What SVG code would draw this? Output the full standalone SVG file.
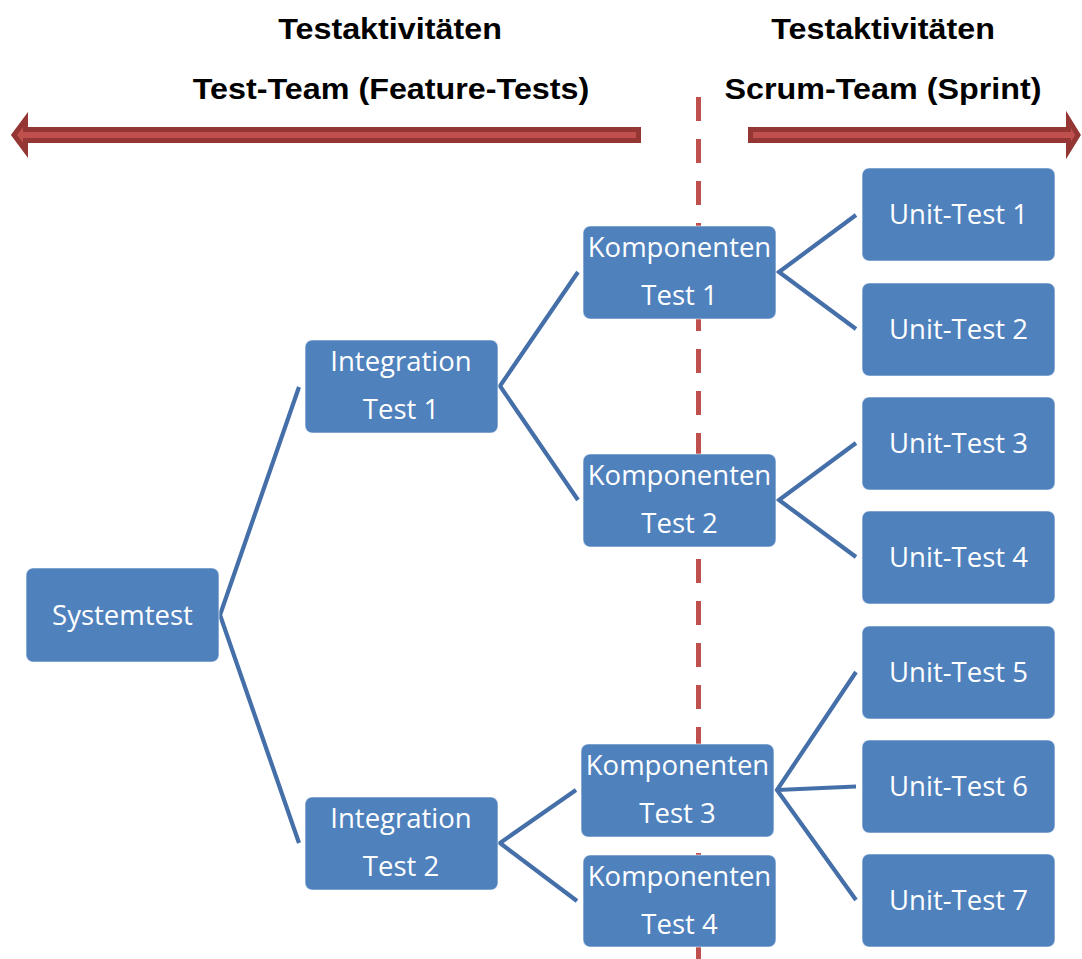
<svg xmlns="http://www.w3.org/2000/svg" width="1082" height="959" viewBox="0 0 1082 959">
  <style>
    .hdr { font-family: "Liberation Sans", Arial, sans-serif; font-weight: bold; font-size: 29.5px; fill: #000; text-anchor: middle; }
    .box { fill: #4F81BD; stroke: #ffffff; stroke-opacity: 0.55; stroke-width: 1.2; }
    .lbl { font-family: "Open Sans", "Noto Sans", sans-serif; font-size: 27.5px; fill: #ffffff; text-anchor: middle; }
    .link { fill: none; stroke: #456FA8; stroke-width: 4.2; stroke-linecap: butt; stroke-linejoin: miter; }
    .divider { stroke: #C0504D; stroke-width: 5; stroke-dasharray: 24 18; fill: none; }
    .band { fill: #C0504D; stroke: #943634; stroke-width: 5; stroke-linejoin: miter; }
  </style>

  <!-- headings -->
  <g id="headings">
    <text class="hdr" transform="translate(390,38.5) scale(1.095,1)">Testaktivitäten</text>
    <text class="hdr" transform="translate(391,98.5) scale(1.095,1)">Test-Team (Feature-Tests)</text>
    <text class="hdr" transform="translate(883,38.5) scale(1.095,1)">Testaktivitäten</text>
    <text class="hdr" transform="translate(883,98.5) scale(1.095,1)">Scrum-Team (Sprint)</text>
  </g>

  <!-- team arrows -->
  <g id="team-arrows">
    <polygon class="band" points="638.5,129.5 25.5,129.5 25.5,119.5 14,135 25.5,150.5 25.5,140.5 638.5,140.5"/>
    <polygon class="band" points="750.5,129.5 1068.5,129.5 1068.5,119.5 1078,135 1068.5,150.5 1068.5,140.5 750.5,140.5"/>
  </g>

  <!-- sprint boundary -->
  <line id="boundary" class="divider" x1="698.5" y1="97" x2="698.5" y2="962"/>

  <!-- tree connectors -->
  <g id="connectors">
    <polyline class="link" points="299,387 220,615 299,843"/>
    <polyline class="link" points="578,272 500,386 578,500"/>
    <polyline class="link" points="576,790 500,843 577,901"/>
    <polyline class="link" points="856,215 779,272 856,329"/>
    <polyline class="link" points="856,443 779,500 856,557"/>
    <polyline class="link" points="856,672 777,790 856,900"/>
    <line class="link" x1="777" y1="790" x2="856" y2="786.5"/>
  </g>

  <!-- nodes -->
  <g id="systemtest">
    <rect class="box" x="26" y="568" width="193" height="94" rx="7"/>
    <text class="lbl" x="122.5" y="624.5">Systemtest</text>
  </g>
  <g id="integration-1">
    <rect class="box" x="305" y="340" width="193" height="93" rx="7"/>
    <text class="lbl" x="401" y="371">Integration</text>
    <text class="lbl" x="401" y="419">Test 1</text>
  </g>
  <g id="integration-2">
    <rect class="box" x="305" y="797" width="193" height="93" rx="7"/>
    <text class="lbl" x="401" y="828">Integration</text>
    <text class="lbl" x="401" y="876">Test 2</text>
  </g>
  <g id="komponenten-1">
    <rect class="box" x="583" y="226" width="193" height="93" rx="7"/>
    <text class="lbl" x="679.5" y="257">Komponenten</text>
    <text class="lbl" x="679.5" y="305">Test 1</text>
  </g>
  <g id="komponenten-2">
    <rect class="box" x="583" y="454" width="193" height="93" rx="7"/>
    <text class="lbl" x="679.5" y="485">Komponenten</text>
    <text class="lbl" x="679.5" y="533">Test 2</text>
  </g>
  <g id="komponenten-3">
    <rect class="box" x="581" y="744" width="193" height="93" rx="7"/>
    <text class="lbl" x="677.5" y="775">Komponenten</text>
    <text class="lbl" x="677.5" y="823">Test 3</text>
  </g>
  <g id="komponenten-4">
    <rect class="box" x="583" y="855" width="193" height="92" rx="7"/>
    <text class="lbl" x="679.5" y="886">Komponenten</text>
    <text class="lbl" x="679.5" y="934">Test 4</text>
  </g>
  <g id="unit-1">
    <rect class="box" x="862" y="168" width="193" height="93" rx="7"/>
    <text class="lbl" x="958.5" y="223.5">Unit-Test 1</text>
  </g>
  <g id="unit-2">
    <rect class="box" x="862" y="283" width="193" height="93" rx="7"/>
    <text class="lbl" x="958.5" y="338.5">Unit-Test 2</text>
  </g>
  <g id="unit-3">
    <rect class="box" x="862" y="397" width="193" height="93" rx="7"/>
    <text class="lbl" x="958.5" y="452.5">Unit-Test 3</text>
  </g>
  <g id="unit-4">
    <rect class="box" x="862" y="511" width="193" height="93" rx="7"/>
    <text class="lbl" x="958.5" y="566.5">Unit-Test 4</text>
  </g>
  <g id="unit-5">
    <rect class="box" x="862" y="626" width="193" height="93" rx="7"/>
    <text class="lbl" x="958.5" y="681.5">Unit-Test 5</text>
  </g>
  <g id="unit-6">
    <rect class="box" x="862" y="740" width="193" height="93" rx="7"/>
    <text class="lbl" x="958.5" y="795.5">Unit-Test 6</text>
  </g>
  <g id="unit-7">
    <rect class="box" x="862" y="854" width="193" height="93" rx="7"/>
    <text class="lbl" x="958.5" y="909.5">Unit-Test 7</text>
  </g>
</svg>
